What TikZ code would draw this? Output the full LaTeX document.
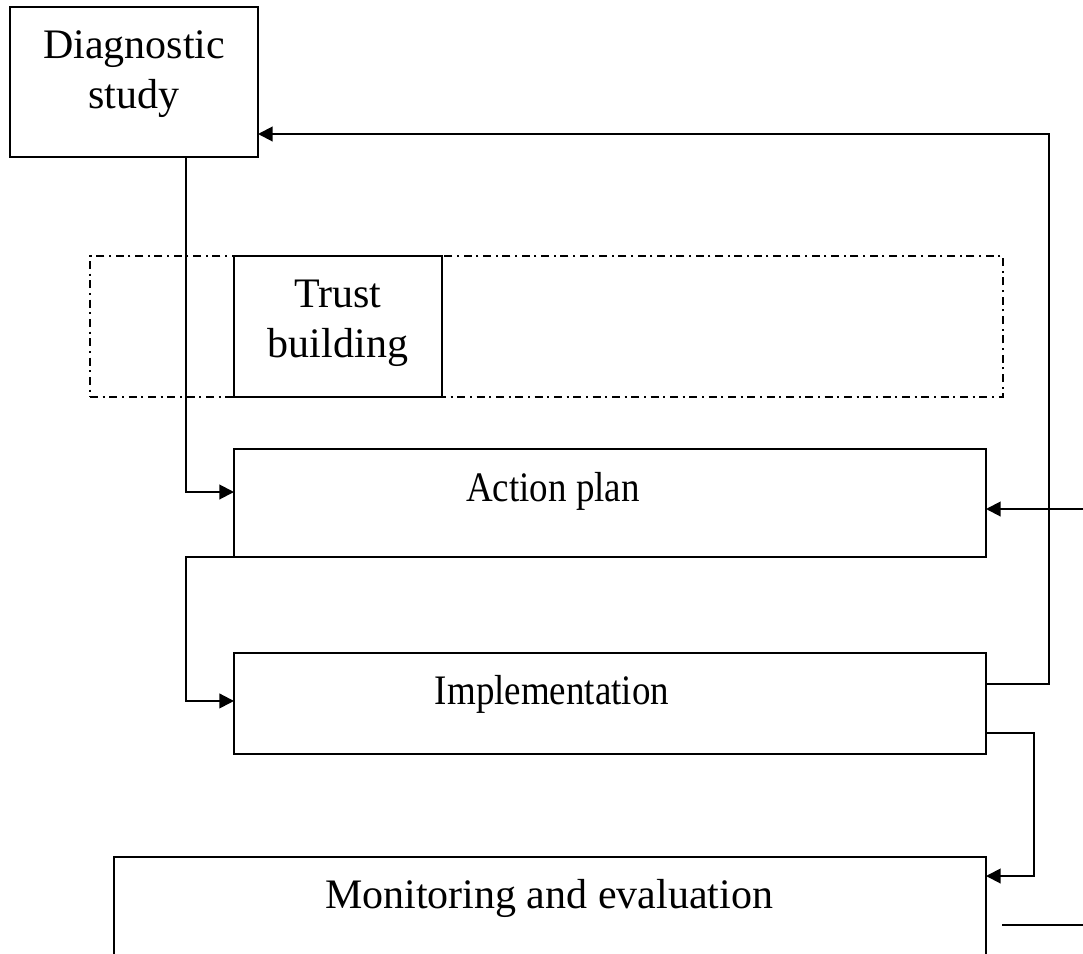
\documentclass[tikz,border=0pt]{standalone}
\usepackage{fontspec}
\usepackage{graphicx}
\setmainfont{Liberation Serif}
\usetikzlibrary{arrows.meta,calc}
\begin{document}
\begin{tikzpicture}[x=0.75pt,y=-0.75pt,
  box/.style={draw,line width=1.5pt,rectangle,inner sep=0pt,outer sep=0pt},
  dashbox/.style={draw,line width=1.2pt,rectangle,inner sep=0pt,outer sep=0pt,
    dash pattern=on 6pt off 3.5pt on 1.5pt off 3.5pt},
  conn/.style={line width=1.5pt,-{Triangle[length=11pt,width=11pt]}},
  plain/.style={line width=1.5pt},
  txt/.style={anchor=base,inner sep=0pt,font=\fontsize{31.5}{37.5}\selectfont}]
\path[use as bounding box,fill=white] (0,0) rectangle (1083,954);
\clip (0,0) rectangle (1083,954);
% boxes
\node[dashbox,minimum width=913*0.75pt,minimum height=141*0.75pt] (frame) at (546.5,326.5) {};
\node[box,fill=white,minimum width=208*0.75pt,minimum height=141*0.75pt] (trust) at (338,326.5) {};
\node[box,minimum width=248*0.75pt,minimum height=150*0.75pt] (diag) at (134,82) {};
\node[box,minimum width=752*0.75pt,minimum height=108*0.75pt] (act) at (610,503) {};
\node[box,minimum width=752*0.75pt,minimum height=101*0.75pt] (impl) at (610,703.5) {};
\node[box,minimum width=872*0.75pt,minimum height=143*0.75pt] (mon) at (550,928.5) {};
% texts
\node[txt] (t1) at (134,58) {Diagnostic};
\node[txt] (t2) at (134,108) {study};
\node[txt] (t3) at (338,307) {Trust};
\node[txt] (t4) at (338,357) {building};
\node[txt] (t5) at (553,501) {\scalebox{0.88}[1]{Action plan}};
\node[txt] (t6) at (552,704) {\scalebox{0.88}[1]{Implementation}};
\node[txt] (t7) at (549,908) {Monitoring and evaluation};
% connectors
\draw[conn] ([xshift=-54pt]diag.south east) |- ([yshift=8.25pt]act.west);
\draw[conn] ([yshift=-23.25pt]impl.north east) -- ++(47.25pt,0) |- ([yshift=-39pt]diag.east);
\draw[conn] (act.south west) -- ++(-36pt,0) |- ([yshift=1.9pt]impl.west);
\draw[conn] ([yshift=-60pt]impl.north east) -- ++(36pt,0) |- ([yshift=-14.25pt]mon.north east);
\coordinate (in1) at (1083,509);
\draw[conn] (in1) -- (act.east |- in1);
\coordinate (o1) at (1002,925);
\coordinate (o2) at (1083,925);
\draw[plain] (o1) -- (o2);
\end{tikzpicture}
\end{document}
